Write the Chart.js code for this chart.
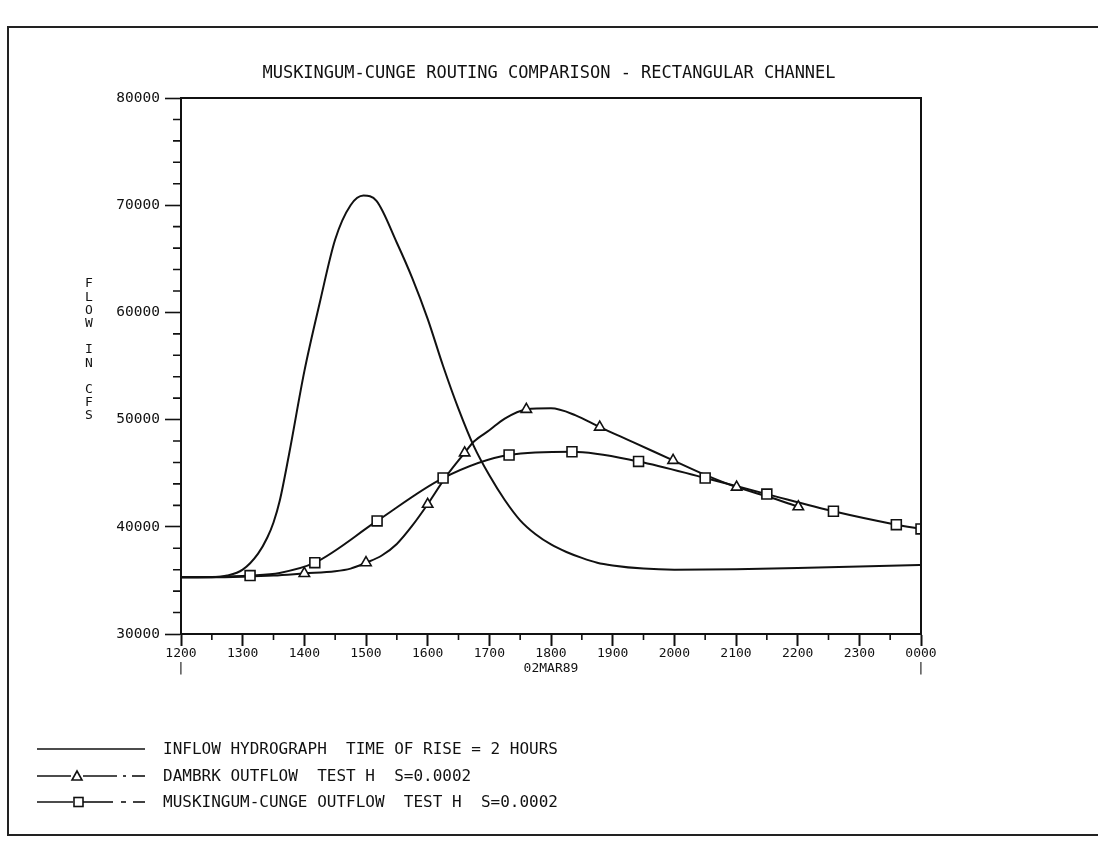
<!DOCTYPE html>
<html>
<head>
<meta charset="utf-8">
<script src="https://cdn.jsdelivr.net/npm/chart.js@4.4.1/dist/chart.umd.min.js"></script>
<style>
  html, body { margin: 0; padding: 0; background: #fff; }
  #wrap { position: relative; width: 1098px; height: 841px; overflow: hidden; }
  #frame { position: absolute; left: 7px; top: 26px; width: 1110px; height: 810px;
           border: 2px solid #222; box-sizing: border-box; }
  #chartBox { position: absolute; left: 0; top: 0; width: 1098px; height: 841px; }
  .leg { position: absolute; left: 0; width: 700px; height: 20px;
         font: 16px 'DejaVu Sans Mono', monospace; color: #111; }
  .leg svg { position: absolute; left: 0; top: 0; }
  .leg span { position: absolute; left: 163px; top: 0; line-height: 20px; white-space: pre; }
</style>
</head>
<body>
<div id="wrap">
  <div id="frame"></div>
  <div id="chartBox"><canvas id="Chart1"></canvas></div>

  <div class="leg" style="top:739px">
    <svg width="150" height="20"><line x1="37" y1="10" x2="145" y2="10" stroke="#111" stroke-width="1.6"/></svg>
    <span>INFLOW HYDROGRAPH  TIME OF RISE = 2 HOURS</span>
  </div>
  <div class="leg" style="top:766px">
    <svg width="150" height="20">
      <line x1="37" y1="10" x2="71" y2="10" stroke="#111" stroke-width="1.6"/>
      <polygon points="77,5 82,14 72,14" fill="#fff" stroke="#111" stroke-width="1.6"/>
      <line x1="83" y1="10" x2="117" y2="10" stroke="#111" stroke-width="1.6"/>
      <line x1="123" y1="10" x2="126" y2="10" stroke="#111" stroke-width="1.6"/>
      <line x1="132" y1="10" x2="145" y2="10" stroke="#111" stroke-width="1.6"/>
    </svg>
    <span>DAMBRK OUTFLOW  TEST H  S=0.0002</span>
  </div>
  <div class="leg" style="top:792px">
    <svg width="150" height="20">
      <line x1="37" y1="10" x2="73" y2="10" stroke="#111" stroke-width="1.6"/>
      <rect x="74" y="5.5" width="9" height="9" fill="#fff" stroke="#111" stroke-width="1.6"/>
      <line x1="83" y1="10" x2="113" y2="10" stroke="#111" stroke-width="1.6"/>
      <line x1="121" y1="10" x2="126" y2="10" stroke="#111" stroke-width="1.6"/>
      <line x1="133" y1="10" x2="145" y2="10" stroke="#111" stroke-width="1.6"/>
    </svg>
    <span>MUSKINGUM-CUNGE OUTFLOW  TEST H  S=0.0002</span>
  </div>
</div>

<script>
// time in hours from 1200 on 02MAR89, flow in cfs
const inflowHours = [12.0, 12.5, 12.75, 13.0, 13.25, 13.4, 13.5, 13.6, 13.75, 14.0, 14.25, 14.5, 14.75, 14.96, 15.17,
  15.5, 15.75, 16.0, 16.25, 16.5, 16.75, 17.0, 17.25, 17.5, 17.75, 18.0, 18.25, 18.5, 18.75, 19.0,
  19.5, 20.0, 21.0, 22.0, 23.0, 24.0];
const inflowCfs = [35300, 35300, 35450, 36000, 37500, 39000, 40400, 42400, 46700, 54500, 60900, 66800, 70000, 70900, 70400,
  66500, 63200, 59400, 55000, 51000, 47500, 44800, 42500, 40600, 39300, 38350, 37650, 37100, 36650, 36400,
  36100, 36000, 36050, 36150, 36300, 36450];

const dambrkHours = [12.0, 12.5, 13.0, 13.5, 14.0, 14.5, 14.75, 15.0, 15.25, 15.5, 15.75, 16.0, 16.3, 16.6,
  16.75, 17.0, 17.25, 17.6, 18.0, 18.4, 18.79, 19.33, 19.98, 20.52, 21.01, 21.5, 22.01];
const dambrkCfs = [35300, 35300, 35350, 35450, 35650, 35850, 36100, 36650, 37300, 38400, 40100, 42100, 44700, 46900,
  47950, 49000, 50100, 50950, 51050, 50400, 49300, 47900, 46200, 44800, 43700, 42850, 41870];
const dambrkMarkHours = [14.0, 15.0, 16.0, 16.6, 17.6, 18.79, 19.98, 21.01, 22.01];
const dambrkMarkCfs = [35650, 36650, 42100, 46900, 50950, 49300, 46200, 43700, 41870];

const mcHours = [12.0, 12.5, 13.12, 13.6, 14.17, 15.18, 16.25, 17.32, 18.34, 19.42, 20.5, 21.5, 22.58, 23.6, 24.0];
const mcCfs = [35300, 35320, 35450, 35700, 36650, 40550, 44550, 46700, 47000, 46100, 44550, 43050, 41450, 40200, 39800];
const mcMarkHours = [13.12, 14.17, 15.18, 16.25, 17.32, 18.34, 19.42, 20.5, 21.5, 22.58, 23.6, 24.0];
const mcMarkCfs = [35450, 36650, 40550, 44550, 46700, 47000, 46100, 44550, 43050, 41450, 40200, 39800];

const xTickLabels = ['1200', '1300', '1400', '1500', '1600', '1700', '1800', '1900', '2000', '2100', '2200', '2300', '0000'];
const dateLabel = '02MAR89';
const yAxisLetters = ['F', 'L', 'O', 'W', '', 'I', 'N', '', 'C', 'F', 'S'];

const pairs = (xs, ys) => xs.map((x, i) => ({ x: x, y: ys[i] }));
const INK = '#111';

Chart.defaults.font.family = "'DejaVu Sans Mono', monospace";
Chart.defaults.color = INK;

// frame round the plot, minor ticks and the stacked y title
const plotFrame = {
  id: 'plotFrame',
  afterDraw(chart) {
    const { ctx, chartArea: a, scales: { x, y } } = chart;
    ctx.save();
    ctx.strokeStyle = INK;
    ctx.lineWidth = 2;
    ctx.strokeRect(a.left, a.top, a.right - a.left, a.bottom - a.top);
    ctx.lineWidth = 1.6;
    ctx.beginPath();
    for (let v = y.min; v <= y.max; v += 2000) {
      if (v % 10000 === 0) continue;
      const py = y.getPixelForValue(v);
      ctx.moveTo(a.left - 8, py);
      ctx.lineTo(a.left, py);
    }
    for (let h = x.min + 0.5; h < x.max; h += 1) {
      const px = x.getPixelForValue(h);
      ctx.moveTo(px, a.bottom);
      ctx.lineTo(px, a.bottom + 6);
    }
    ctx.stroke();
    ctx.font = "13px 'DejaVu Sans Mono'";
    ctx.fillStyle = INK;
    ctx.textAlign = 'center';
    ctx.textBaseline = 'middle';
    yAxisLetters.forEach((c, i) => ctx.fillText(c, 89, 284 + i * 13.2));
    ctx.restore();
  }
};

const config1 = {
  type: 'line',
  data: {
    datasets: [
      { data: pairs(dambrkMarkHours, dambrkMarkCfs), showLine: false, order: 0,
        pointStyle: 'triangle', pointRadius: 6, borderWidth: 1.6,
        borderColor: INK, backgroundColor: '#fff' },
      { data: pairs(mcMarkHours, mcMarkCfs), showLine: false, order: 0,
        pointStyle: 'rect', pointRadius: 7, borderWidth: 1.6,
        borderColor: INK, backgroundColor: '#fff' },
      { data: pairs(inflowHours, inflowCfs), order: 1, borderColor: INK, borderWidth: 2,
        pointRadius: 0, cubicInterpolationMode: 'monotone', tension: 0.4 },
      { data: pairs(dambrkHours, dambrkCfs), order: 1, borderColor: INK, borderWidth: 2,
        pointRadius: 0, cubicInterpolationMode: 'monotone', tension: 0.4 },
      { data: pairs(mcHours, mcCfs), order: 1, borderColor: INK, borderWidth: 2,
        pointRadius: 0, cubicInterpolationMode: 'monotone', tension: 0.4 }
    ]
  },
  options: {
    responsive: true,
    maintainAspectRatio: false,
    animation: false,
    layout: { padding: { left: 0, right: 0, top: 0, bottom: 147 } },
    scales: {
      x: {
        type: 'linear', min: 12, max: 24,
        afterFit: (s) => { s.height = 60; },
        ticks: {
          stepSize: 1, autoSkip: false, maxRotation: 0, padding: 0,
          font: { size: 13, lineHeight: 1.15 },
          callback: function (value) {
            const i = Math.round(value - 12);
            const lab = xTickLabels[i];
            if (i === 0 || i === xTickLabels.length - 1) return [lab, '|'];
            if (i === 6) return [lab, dateLabel];
            return lab;
          }
        },
        grid: { drawOnChartArea: false, tickLength: 12, tickColor: INK, tickWidth: 2 },
        border: { color: INK, width: 2 }
      },
      y: {
        min: 30000, max: 80000,
        afterFit: (s) => { s.width = 181; },
        ticks: {
          stepSize: 10000, padding: 5, font: { size: 14.5 },
          callback: (value) => String(value)
        },
        grid: { drawOnChartArea: false, tickLength: 16, tickColor: INK, tickWidth: 1.6 },
        border: { color: INK, width: 2 }
      },
      // empty right-hand box so the plot ends where the reference does
      yRight: {
        position: 'right', min: 30000, max: 80000,
        afterFit: (s) => { s.width = 177; },
        ticks: { display: false },
        grid: { display: false },
        border: { display: false }
      }
    },
    plugins: {
      title: {
        display: true,
        text: 'MUSKINGUM-CUNGE ROUTING COMPARISON - RECTANGULAR CHANNEL',
        color: INK,
        font: { size: 17, weight: 'normal' },
        padding: { top: 63.8, bottom: 13.8 }
      },
      legend: { display: false },
      tooltip: { enabled: false }
    }
  },
  plugins: [plotFrame]
};

var myChart1 = new Chart(document.getElementById('Chart1'), config1);
</script>
</body>
</html>
